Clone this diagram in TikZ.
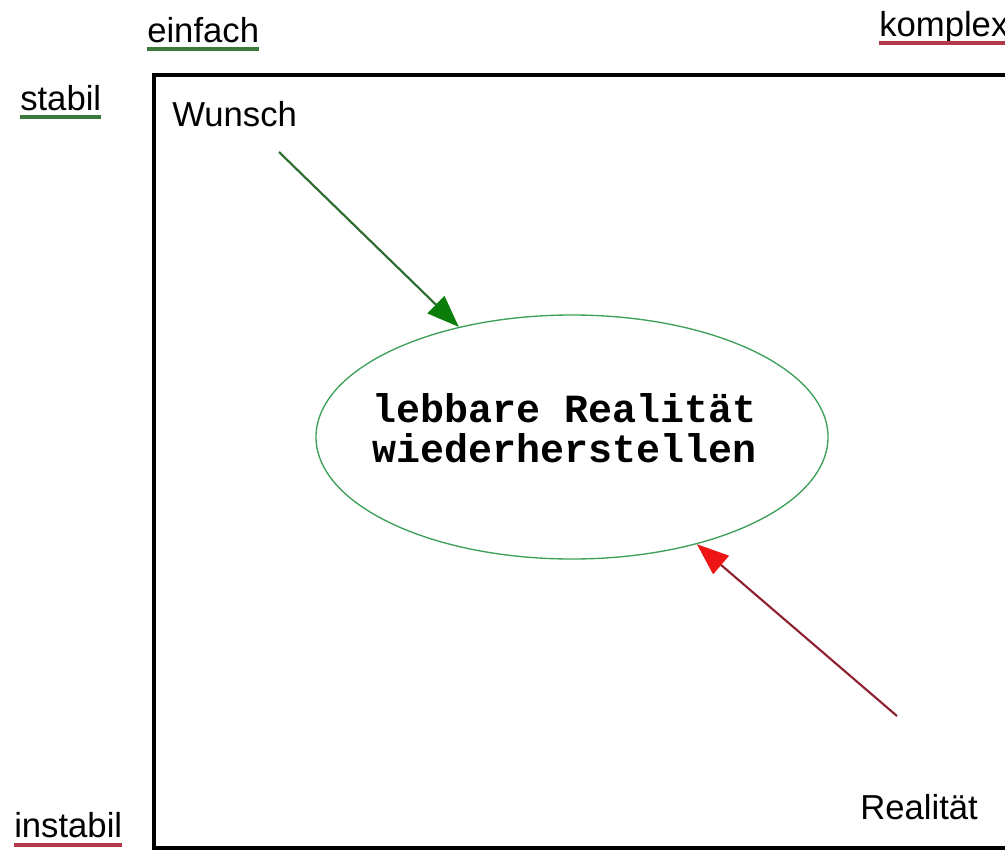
\documentclass[tikz,border=0pt]{standalone}
\usepackage{fontspec}
\setmainfont{Liberation Sans}
\newfontfamily\monobold{Liberation Mono}[BoldFont={* Bold}]
\usetikzlibrary{shapes,arrows.meta}
\definecolor{gruenlinie}{HTML}{2E6B2E}
\definecolor{gruenspitze}{HTML}{0B7D0B}
\definecolor{gruenkreis}{HTML}{3DA05A}
\definecolor{rotlinie}{HTML}{8E2232}
\definecolor{rotspitze}{HTML}{EE1515}
\definecolor{gruenstrich}{HTML}{3B7A3B}
\definecolor{rotstrich}{HTML}{B23A48}

\begin{document}
\begin{tikzpicture}[x=0.75pt,y=-0.75pt,
  lbl/.style={inner sep=0pt,anchor=base west,font=\fontsize{26}{26}\selectfont},
  ustrich/.style={line width=3.2pt},
  pfeil/.style={line width=1.6pt}]
\useasboundingbox (0,0) rectangle (1005,850);
\clip (0,0) rectangle (1005,850);
\fill[white] (0,0) rectangle (1005,850);
% Rahmen
\draw[line width=3pt] (1030,75) -- (154,75) -- (154,848) -- (1030,848);
% Achsen-Beschriftung
\node[lbl] (einfach) at (147,42) {einfach};
\node[lbl] (komplex) at (879,36) {komplex};
\node[lbl] (stabil) at (20,110) {stabil};
\node[lbl] (instabil) at (14,837) {instabil};
\draw[ustrich,gruenstrich] ([yshift=-5pt]einfach.base west) -- ([yshift=-5pt]einfach.base east);
\draw[ustrich,rotstrich] ([yshift=-5pt]komplex.base west) -- ([yshift=-5pt]komplex.base east);
\draw[ustrich,gruenstrich] ([yshift=-5pt]stabil.base west) -- ([yshift=-5pt]stabil.base east);
\draw[ustrich,rotstrich] ([yshift=-6pt]instabil.base west) -- ([yshift=-6pt]instabil.base east);
% Wunsch und Realitaet
\node[lbl] (wunsch) at (172,126) {Wunsch};
\node[lbl] (realitaet) at (860,819) {Realität};
\node[draw=gruenkreis,line width=1pt,ellipse,inner sep=0pt,
  minimum width=384pt,minimum height=183pt] (ziel) at (572,437) {};
\node[align=center,inner sep=0pt,
  font=\monobold\bfseries\fontsize{30}{30}\selectfont] (zieltext) at (565,428)
  {lebbare Realität\\[0pt]wiederherstellen};
\coordinate (wstart) at (279,152);
\coordinate (rstart) at (897,716);
\draw[pfeil,gruenlinie,-{Triangle[length=24pt,width=18pt,color=gruenspitze,fill=gruenspitze]}] (wstart) -- (ziel);
\draw[pfeil,rotlinie,-{Triangle[length=24pt,width=18pt,color=rotspitze,fill=rotspitze]}] (rstart) -- (ziel);
\end{tikzpicture}
\end{document}
